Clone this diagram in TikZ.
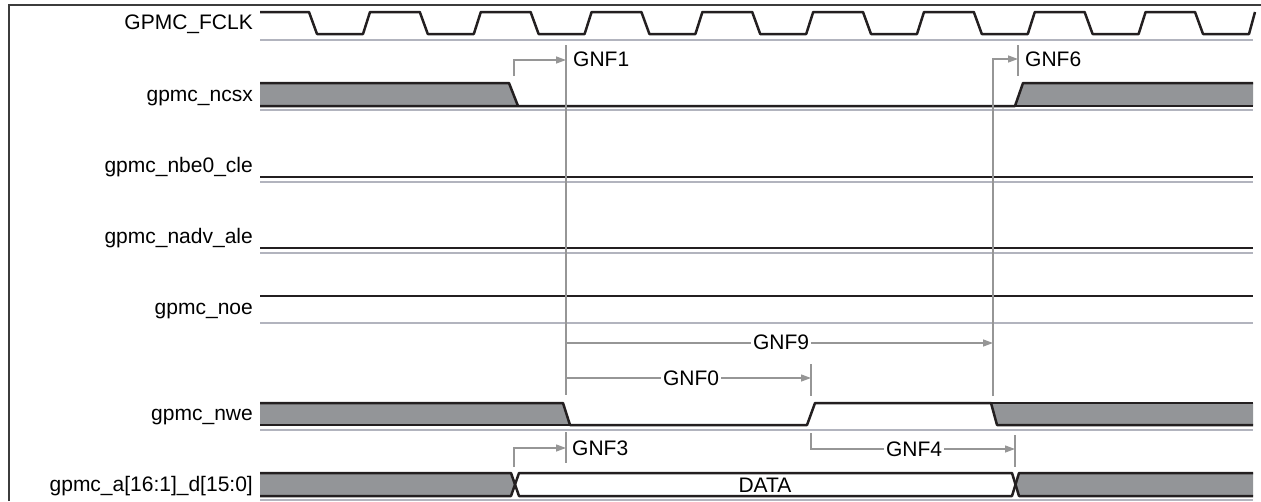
\documentclass[tikz,border=0pt]{standalone}
\usepackage{fontspec}
\setmainfont{Liberation Sans}
\usepackage{tikz}
\usetikzlibrary{arrows.meta, positioning, calc}
\definecolor{sigblack}{RGB}{35, 31, 32}
\definecolor{busgray}{RGB}{147, 149, 152}
\definecolor{basegray}{RGB}{178, 180, 190}
\definecolor{markgray}{RGB}{150, 150, 150}
\definecolor{framegray}{RGB}{60, 60, 60}

\begin{document}
\begin{tikzpicture}[x=1pt, y=-1pt, >={Triangle[length=10pt, width=7pt]},
    every node/.style={font=\fontsize{21}{25}\selectfont, inner sep=0pt},
    sig/.style={line width=2.5pt, sigblack, line join=round},
    baseline/.style={line width=1.6pt, basegray},
    markline/.style={line width=1.3pt, markgray},
    sigfill/.style={fill=busgray},
    siglabel/.style={anchor=base east},
    gnflabel/.style={anchor=west},
    gnfmid/.style={fill=white, inner xsep=2pt, inner ysep=1pt}]
    \useasboundingbox (0,0) rectangle (1261,501);
    \draw[line width=1.5pt, framegray] (9,501) -- (9,5) -- (1261,5);
    \node[siglabel] (lclk) at (253,29) {GPMC\_FCLK};
    \node[siglabel] (lncsx) at (253,101) {gpmc\_ncsx};
    \node[siglabel] (lcle) at (253,172) {gpmc\_nbe0\_cle};
    \node[siglabel] (lale) at (253,243) {gpmc\_nadv\_ale};
    \node[siglabel] (lnoe) at (253,314) {gpmc\_noe};
    \node[siglabel] (lnwe) at (253,420) {gpmc\_nwe};
    \node[siglabel] (lad) at (253,491) {gpmc\_a[16:1]\_d[15:0]};
    \draw[sig] (260,12) \foreach \k in {0,...,7} { -- ({309+110.8*\k},12) -- ({317+110.8*\k},34) -- ({363+110.8*\k},34) -- ({370+110.8*\k},12) } -- (1195,12) -- (1203,34) -- (1249,34) -- (1255,12);
    \draw[baseline] (260,40) -- (1253,40);
    \fill[sigfill] (260,83) -- (509,83) -- (518,106) -- (260,106) -- cycle;
    \fill[sigfill] (1015,106) -- (1023,83) -- (1253,83) -- (1253,106) -- cycle;
    \draw[sig] (260,83) -- (509,83) -- (518,106);
    \draw[sig] (260,106) -- (1015,106) -- (1023,83) -- (1253,83);
    \draw[sig] (1015,106) -- (1253,106);
    \draw[baseline] (260,110) -- (1253,110);
    \draw[sig] (260,177) -- (1253,177);
    \draw[baseline] (260,182) -- (1253,182);
    \draw[sig] (260,248) -- (1253,248);
    \draw[baseline] (260,253) -- (1253,253);
    \draw[sig] (260,296) -- (1253,296);
    \draw[baseline] (260,323) -- (1253,323);
    \fill[sigfill] (260,403) -- (563,403) -- (570,425) -- (260,425) -- cycle;
    \fill[sigfill] (991,403) -- (1253,403) -- (1253,425) -- (997,425) -- cycle;
    \draw[sig] (260,403) -- (563,403) -- (570,425) -- (807,425) -- (815,403) -- (991,403) -- (997,425) -- (1253,425);
    \draw[sig] (260,425) -- (570,425);
    \draw[sig] (991,403) -- (1253,403);
    \draw[baseline] (260,430) -- (1253,430);
    \fill[sigfill] (260,473) -- (511,473) -- (515,484.5) -- (511,496) -- (260,496) -- cycle;
    \fill[sigfill] (1253,473) -- (1019,473) -- (1015.5,484.5) -- (1019,496) -- (1253,496) -- cycle;
    \draw[sig] (260,473) -- (511,473) -- (519,496) -- (1012,496) -- (1019,473) -- (1253,473);
    \draw[sig] (260,496) -- (511,496) -- (519,473) -- (1012,473) -- (1019,496) -- (1253,496);
    \draw[baseline] (260,500) -- (1253,500);
    \node (data) at (765,485) {DATA};
    \draw[markline] (566,45) -- (566,395);
    \draw[markline, ->] (514,76) |- (566,60);
    \node[gnflabel] (gnf1) at (573,59) {GNF1};
    \draw[markline] (1018,45) -- (1018,76);
    \draw[markline, ->] (993,396) |- (1018,59);
    \node[gnflabel] (gnf6) at (1025,59) {GNF6};
    \draw[markline, ->] (566,343) -- (993,343);
    \node[gnfmid] (gnf9) at (781,342) {GNF9};
    \draw[markline] (811,364) -- (811,396);
    \draw[markline, ->] (566,378) -- (811,378);
    \node[gnfmid] (gnf0) at (691,378) {GNF0};
    \draw[markline] (566,432) -- (566,463);
    \draw[markline, ->] (514,467) |- (566,448);
    \node[gnflabel] (gnf3) at (572,448) {GNF3};
    \draw[markline] (1015,435) -- (1015,467);
    \draw[markline, ->] (811,433) |- (1015,449);
    \node[gnfmid] (gnf4) at (914,449) {GNF4};
\end{tikzpicture}
\end{document}
